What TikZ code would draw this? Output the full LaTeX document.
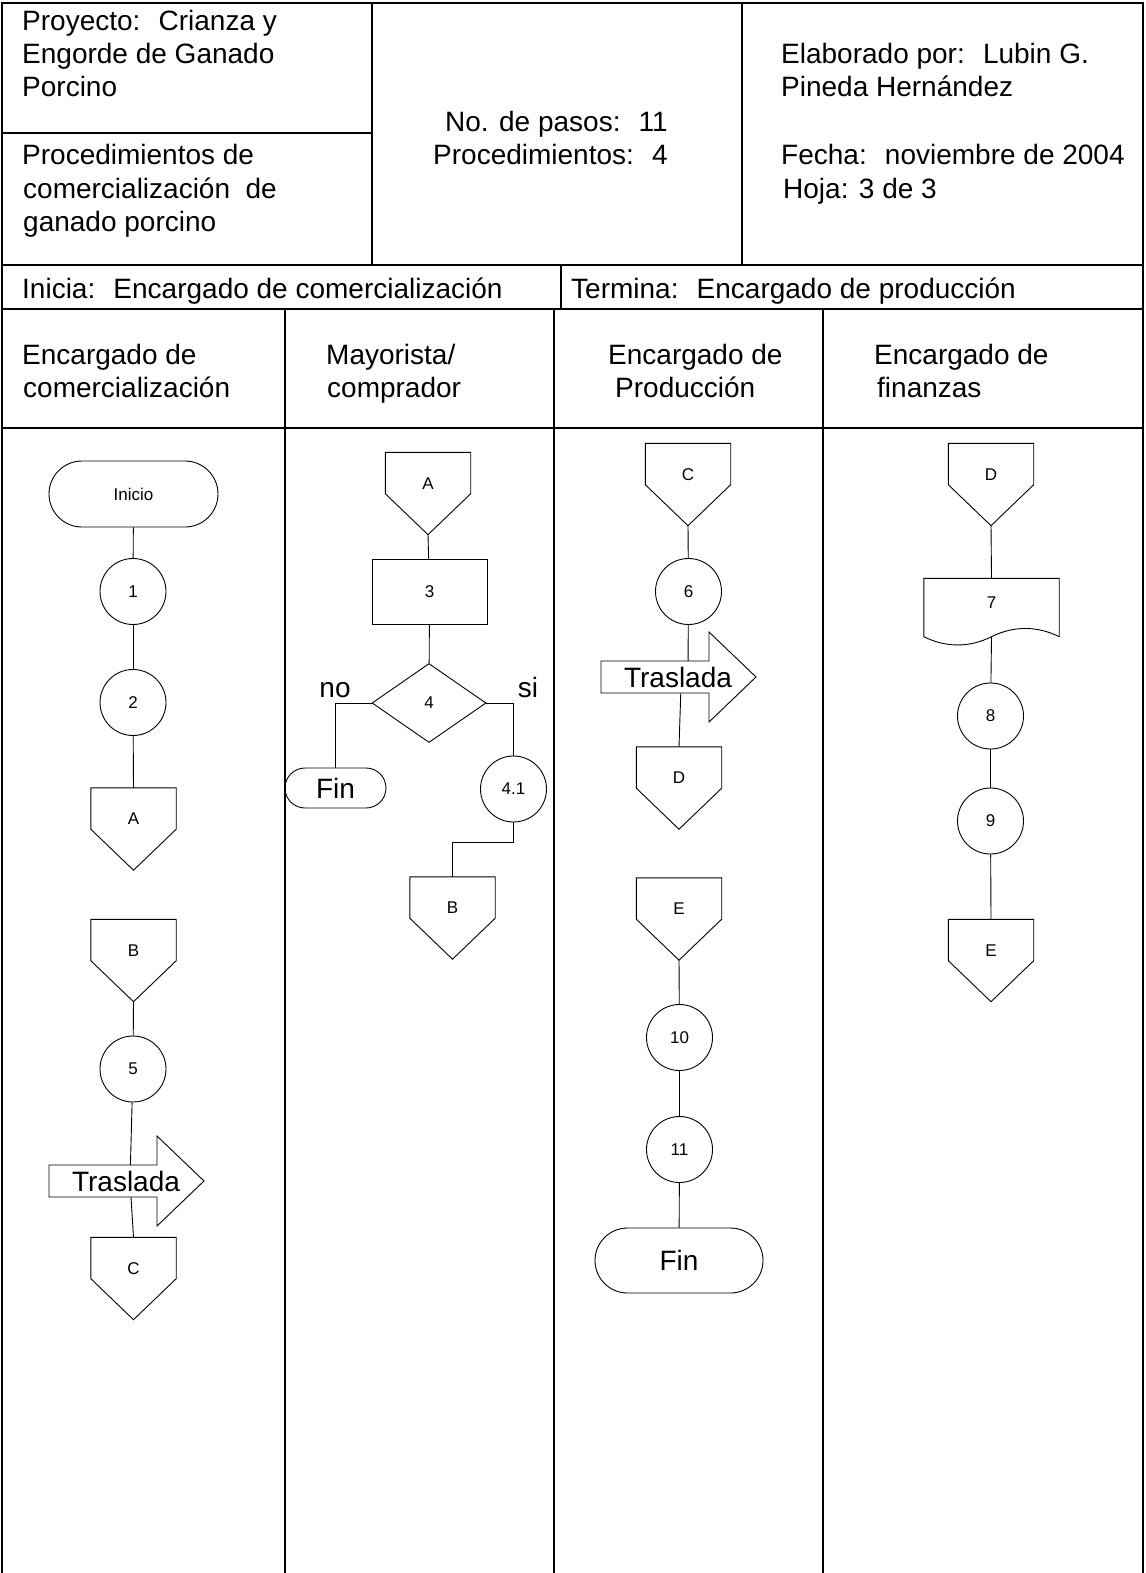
\documentclass[tikz,border=0pt]{standalone}
\usepackage{fontspec}
\setmainfont{Liberation Sans}
\usetikzlibrary{shapes.geometric,shapes.misc}
\begin{document}
\begin{tikzpicture}[x=1pt,y=-1pt,
  frame/.style={line width=1.2pt},
  shapeline/.style={line width=0.9pt},
  conn/.style={line width=0.9pt},
  hdr/.style={font=\fontsize{28}{33}\selectfont, inner sep=0pt, anchor=base west},
  smalltxt/.style={font=\fontsize{17}{20}\selectfont},
  bigtxt/.style={font=\fontsize{28}{33}\selectfont, inner sep=0pt},
  circ/.style={circle, draw, shapeline, minimum size=66pt, inner sep=0pt, smalltxt},
  term/.style={rounded rectangle, draw, shapeline, inner sep=0pt},
  proc/.style={rectangle, draw, shapeline, minimum width=115pt, minimum height=65pt, inner sep=0pt, smalltxt},
  decision/.style={diamond, draw, shapeline, minimum width=114pt, minimum height=79pt, inner sep=0pt, smalltxt},
  offpage/.style={rectangle, minimum width=85pt, minimum height=82pt, inner sep=0pt, smalltxt,
     text height=12pt, text depth=21pt,
     append after command={\pgfextra{\let\myopnode\tikzlastnode
       \draw[shapeline] (\myopnode.north west) -- (\myopnode.north east)
         -- ([yshift=41pt]\myopnode.south east) -- (\myopnode.south)
         -- ([yshift=41pt]\myopnode.south west) -- cycle;}}},
  docnode/.style={rectangle, minimum width=135pt, minimum height=58pt, inner sep=0pt, smalltxt,
     text height=12pt, text depth=11pt,
     append after command={\pgfextra{\let\mydocnode\tikzlastnode
       \draw[shapeline] (\mydocnode.south west) -- (\mydocnode.north west)
         -- (\mydocnode.north east) -- (\mydocnode.south east)
         .. controls ([xshift=-22pt,yshift=11pt]\mydocnode.south east) and ([xshift=22pt,yshift=11pt]\mydocnode.south) .. (\mydocnode.south)
         .. controls ([xshift=-22pt,yshift=-11pt]\mydocnode.south) and ([xshift=22pt,yshift=-11pt]\mydocnode.south west) .. (\mydocnode.south west) -- cycle;}}},
  traslada/.pic={
     \filldraw[shapeline, fill=white] (0,-16) -- (108,-16) -- (108,-45) -- (155,0)
        -- (108,45) -- (108,16) -- (0,16) -- cycle;
     \node[bigtxt] (-txt) at (77,0) {Traslada};
  }
]
\useasboundingbox (0,0) rectangle (1145,1573);

% ---------- frame ----------
\draw[frame] (2,1573) -- (2,3) -- (1143,3) -- (1143,1573);
\draw[frame] (372,3) -- (372,265);
\draw[frame] (742,3) -- (742,265);
\draw[frame] (2,133) -- (372,133);
\draw[frame] (2,265) -- (1143,265);
\draw[frame] (561,265) -- (561,309);
\draw[frame] (2,309) -- (1143,309);
\draw[frame] (285,309) -- (285,1573);
\draw[frame] (554,309) -- (554,1573);
\draw[frame] (823,309) -- (823,1573);
\draw[frame] (2,428) -- (1143,428);

% ---------- header texts ----------
\node[hdr] (h1) at (22,31) {Proyecto:~ Crianza y};
\node[hdr] (h2) at (22,64) {Engorde de Ganado};
\node[hdr] (h3) at (22,97) {Porcino};
\node[hdr] (h4) at (22,165) {Procedimientos de};
\node[hdr] (h5) at (23,198) {comercialización~ de};
\node[hdr] (h6) at (23,231) {ganado porcino};
\node[hdr] (h7) at (445,132) {No. de pasos:~ 11};
\node[hdr] (h8) at (433,165) {Procedimientos:~ 4};
\node[hdr] (h9) at (781,64) {Elaborado por:~ Lubin G.};
\node[hdr] (h10) at (781,97) {Pineda Hernández};
\node[hdr] (h11) at (781,165) {Fecha:~ noviembre de 2004};
\node[hdr] (h12) at (783,198) {Hoja: 3 de 3};
\node[hdr] (h13) at (22,298) {Inicia:~ Encargado de comercialización};
\node[hdr] (h14) at (571,298) {Termina:~ Encargado de producción};
\node[hdr] (l1a) at (22,364) {Encargado de};
\node[hdr] (l1b) at (23,397) {comercialización};
\node[hdr] (l2a) at (326,364) {Mayorista/};
\node[hdr] (l2b) at (327,397) {comprador};
\node[hdr] (l3a) at (608,364) {Encargado de};
\node[hdr] (l3b) at (615,397) {Producción};
\node[hdr] (l4a) at (874,364) {Encargado de};
\node[hdr] (l4b) at (877,397) {finanzas};

% ---------- lane 1 ----------
\node[term, minimum width=169pt, minimum height=66pt, smalltxt] (ini) at (133.5,494) {Inicio};
\node[circ] (c1) at (133,591.5) {1};
\node[circ] (c2) at (133,702.5) {2};
\node[offpage] (oA1) at (133.5,829) {A};
\node[offpage] (oB1) at (133.5,960.5) {B};
\node[circ] (c5) at (133,1069) {5};
\node[offpage] (oC1) at (133.5,1278.5) {C};

% ---------- lane 2 ----------
\node[offpage] (oA2) at (428,493.5) {A};
\node[proc] (p3) at (429.5,591.5) {3};
\node[decision] (d4) at (429,703) {4};
\node[term, minimum width=101pt, minimum height=40pt, bigtxt] (fin2) at (335.5,788) {Fin};
\node[circ] (c41) at (513.5,789) {4.1};
\node[offpage] (oB2) at (452.5,918) {B};
\node[bigtxt, anchor=base] (lno) at (335,697) {no};
\node[bigtxt, anchor=base] (lsi) at (528,697) {si};

% ---------- lane 3 ----------
\node[offpage] (oC3) at (688,484.5) {C};
\node[circ] (c6) at (688.5,591.5) {6};
\node[offpage] (oD3) at (679,788) {D};
\node[offpage] (oE3) at (679,919) {E};
\node[circ] (c10) at (679.5,1037.5) {10};
\node[circ] (c11) at (679.5,1149.5) {11};
\node[term, minimum width=168pt, minimum height=65pt, bigtxt] (fin3) at (679,1260.5) {Fin};

% ---------- lane 4 ----------
\node[offpage] (oD4) at (991,484.5) {D};
\node[docnode] (d7) at (991.5,607.5) {7};
\node[circ] (c8) at (990.5,716) {8};
\node[circ] (c9) at (990.5,821) {9};
\node[offpage] (oE4) at (991,960.5) {E};

% ---------- connectors ----------
\draw[conn] (ini) -- (c1);
\draw[conn] (c1) -- (c2);
\draw[conn] (c2) -- (oA1.north);
\draw[conn] (oB1.south) -- (c5);
\coordinate (k1) at (130,1181);
\draw[conn] (c5) -- (k1) -- (oC1.north);

\draw[conn] (oA2.south) -- (p3);
\draw[conn] (p3) -- (d4);
\draw[conn] (d4.west) -| (fin2.north);
\draw[conn] (d4.east) -| (c41.north);
\draw[conn] (c41.south) -- ++(0,20) -| (oB2.north);

\draw[conn] (oC3.south) -- (c6);
\coordinate (k3a) at (688,668);
\coordinate (k3b) at (681,686);
\draw[conn] (c6) -- (k3a) -- (k3b) -- (oD3.north);
\draw[conn] (oE3.south) -- (c10);
\draw[conn] (c10) -- (c11);
\draw[conn] (c11) -- (fin3);

\draw[conn] (oD4.south) -- (d7.north);
\draw[conn] (d7.south) -- (c8);
\draw[conn] (c8) -- (c9);
\draw[conn] (c9) -- (oE4.north);

% ---------- transfer arrows ----------
\pic (tr1) at (49,1181) {traslada};
\pic (tr3) at (601,677) {traslada};
\end{tikzpicture}
\end{document}
